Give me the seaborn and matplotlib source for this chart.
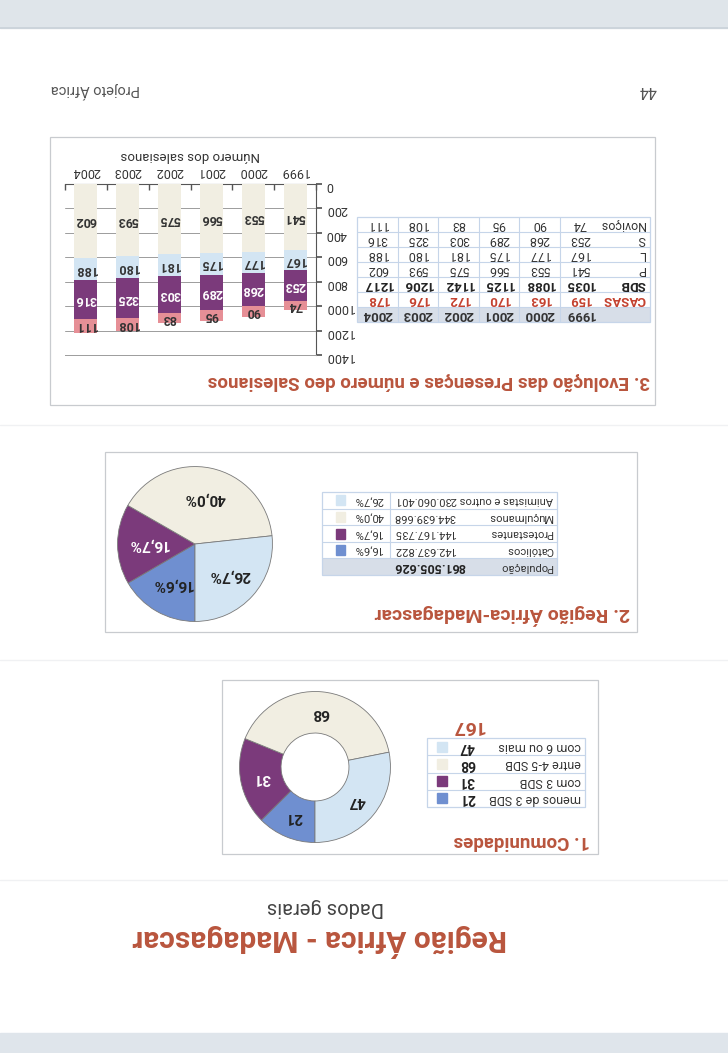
"""
Pagina 'Regiao Africa - Madagascar' (digitalizada de pernas para o ar)
"""
import matplotlib
matplotlib.use('Agg')
import matplotlib.pyplot as plt
from matplotlib.patches import Rectangle
import numpy as np
import pandas as pd
import seaborn as sns

sns.set_theme(style='white')
plt.rcParams['font.family'] = ['Roboto', 'DejaVu Sans']

# ============================================================================
# DADOS
# ============================================================================
years = ['1999', '2000', '2001', '2002', '2003', '2004']
casas = [159, 163, 170, 172, 176, 178]
sdb = [1035, 1088, 1125, 1142, 1206, 1217]
padres = [541, 553, 566, 575, 593, 602]
leigos = [167, 177, 175, 181, 180, 188]
estudantes = [253, 268, 289, 303, 325, 316]
novicos = [74, 90, 95, 83, 108, 111]

rel_names = ['Católicos', 'Protestantes', 'Muçulmanos', 'Animistas e outros']
rel_pop = ['142.637.822', '144.167.735', '344.639.668', '230.060.401']
rel_pct = [16.6, 16.7, 40.0, 26.7]
pop_total = '861.505.626'

com_names = ['menos de 3 SDB', 'com 3 SDB', 'entre 4-5 SDB', 'com 6 ou mais']
com_vals = [21, 31, 68, 47]
com_total = 167

# cores
RED = '#b9553d'
RED2 = '#c4412f'
PURPLE = '#7b3a7b'
BLUE = '#6f8fd0'
LBLUE = '#d3e5f3'
CREAM = '#f1eee2'
PINK = '#e68f96'
LINE = '#c6d5e9'
HEAD = '#d7dee8'

W, H = 728, 1053
fig = plt.figure(figsize=(W / 100, H / 100), dpi=100)

# pagina em coordenadas de pixel (y para baixo)
pg = fig.add_axes([0, 0, 1, 1])
pg.set_xlim(0, W)
pg.set_ylim(H, 0)
pg.axis('off')


def rect_px(x0, y0, x1, y1):
    return [x0 / W, 1 - y1 / H, (x1 - x0) / W, (y1 - y0) / H]


def txt(x, y, s, **kw):
    kw.setdefault('ha', 'center')
    kw.setdefault('va', 'center')
    kw.setdefault('color', '#333333')
    pg.text(x, y, s, rotation=180, **kw)


def box(x0, y0, x1, y1, ec='#c8cbcf', lw=0.9, fc='none', z=1):
    pg.add_patch(Rectangle((x0, y0), x1 - x0, y1 - y0, fill=fc != 'none',
                           fc=fc, ec=ec, lw=lw, zorder=z))


# fundo do scanner
pg.add_patch(Rectangle((0, 0), W, 28, color='#dfe5ea', zorder=0))
pg.add_patch(Rectangle((0, 1033), W, 20, color='#dfe5eb', zorder=0))
pg.plot([0, W], [28, 28], color='#c9d1d8', lw=1.2, zorder=0)
for yy in (425, 660, 880):
    pg.plot([0, W], [yy, yy], color='#f0f1f3', lw=1, zorder=0)

# rodape (de pernas para o ar)
txt(648, 90, '44', fontsize=11.5, color='#555555')
txt(95, 90, 'Projeto África', fontsize=10.5, color='#555555')

# titulo da pagina
txt(320, 940, 'Região África - Madagascar', fontsize=21.5, fontweight='bold', color=RED)
txt(325, 908, 'Dados gerais', fontsize=14.5, color='#444444')

# ============================================================================
# 3. EVOLUCAO DAS PRESENCAS
# ============================================================================
box(50, 137, 655, 405)
txt(650, 381, '3. Evolução das Presenças e número deo Salesianos',
    ha='right', fontsize=13.5, fontweight='bold', color=RED)

ax = fig.add_axes(rect_px(65, 184, 316, 355))
ax.patch.set_alpha(0)
df = pd.DataFrame({'ano': years, 'P': padres, 'L': leigos,
                   'S': estudantes, 'Noviços': novicos})
cum = df[['P', 'L', 'S', 'Noviços']].cumsum(axis=1)
cum['ano'] = years
for col, c in [('Noviços', PINK), ('S', PURPLE), ('L', LBLUE), ('P', CREAM)]:
    sns.barplot(data=cum, x='ano', y=col, color=c, width=0.55, saturation=1,
                errorbar=None, ax=ax, edgecolor='none', zorder=3)

for i in range(len(years)):
    bottom = 0
    for vals, tc in [(padres, '#333333'), (leigos, '#333333'),
                     (estudantes, 'white'), (novicos, '#333333')]:
        v = vals[i]
        ax.text(i, bottom + v / 2, str(v), rotation=180, ha='center', va='center',
                fontsize=9, fontweight='bold', color=tc, zorder=4)
        bottom += v

ax.set_ylim(1400, 0)
ax.set_xlim(5.5, -0.5)
ax.set_yticks(range(0, 1401, 200))
ax.yaxis.tick_right()
ax.tick_params(axis='y', labelrotation=180, labelsize=9, length=4,
               direction='out', color='#555555', labelcolor='#333333', pad=3, right=True)
ax.xaxis.tick_top()
ax.set_xticks(range(len(years)))
ax.set_xticklabels(years)
ax.set_xticks(np.arange(-0.5, 6, 1), minor=True)
ax.tick_params(axis='x', which='major', labelrotation=180, labelsize=9, length=0,
               labelcolor='#333333', pad=4)
ax.tick_params(axis='x', which='minor', length=4, direction='in', color='#555555', top=True)
ax.xaxis.set_label_position('top')
ax.set_xlabel('Número dos salesianos', rotation=180, fontsize=9.5, color='#333333', labelpad=5)
ax.set_ylabel('')
ax.grid(axis='y', color='#9c9c9c', lw=0.7)
ax.set_axisbelow(True)
ax.spines['left'].set_visible(False)
ax.spines['bottom'].set_color('#9c9c9c')
ax.spines['bottom'].set_linewidth(0.7)
for s in ('top', 'right'):
    ax.spines[s].set_color('#555555')
    ax.spines[s].set_linewidth(0.8)

# tabela 3
T3L, T3R, T3B, rh = 357, 650, 322, 15
cw = 40.5
xlab = 600
rows3 = [('', years, 'head'), ('CASAS', casas, 'casas'), ('SDB', sdb, 'sdb'),
         ('P', padres, ''), ('L', leigos, ''), ('S', estudantes, ''),
         ('Noviços', novicos, '')]
T3T = T3B - rh * len(rows3)
box(T3L, T3B - rh, T3R, T3B, ec='none', fc=HEAD, z=1)
for k in range(1, len(rows3)):
    pg.plot([T3L, T3R], [T3B - k * rh] * 2, color=LINE, lw=0.8, zorder=2)
for j in range(1, 6):
    pg.plot([xlab - j * cw] * 2, [T3T, T3B], color=LINE, lw=0.8, zorder=2)
box(T3L, T3T, T3R, T3B, ec=LINE, lw=0.9, z=2)
for k, (lab, vals, kind) in enumerate(rows3):
    yc = T3B - (k + 0.5) * rh
    style = dict(fontsize=9, color='#333333')
    if kind == 'head':
        style = dict(fontsize=9.5, fontweight='bold', color='#333333')
    elif kind == 'casas':
        style = dict(fontsize=9.5, fontweight='bold', color=RED2)
    elif kind == 'sdb':
        style = dict(fontsize=9.5, fontweight='bold', color='#222222')
    if lab:
        txt(T3R - 5, yc, lab, ha='right', **style)
    for i, v in enumerate(vals):
        txt(xlab - (i + 0.5) * cw, yc, str(v), **style)

# ============================================================================
# 2. REGIAO AFRICA-MADAGASCAR
# ============================================================================
box(105, 452, 637, 632)
txt(630, 614, '2. Região África-Madagascar', ha='right', fontsize=14,
    fontweight='bold', color=RED)

rel_colors = [BLUE, PURPLE, CREAM, LBLUE]
cx, cy, r = 195, 544, 79
pax = fig.add_axes(rect_px(cx - r, cy - r, cx + r, cy + r))
wedges, _ = pax.pie(rel_pct, colors=rel_colors, startangle=270, counterclock=False,
                    radius=1, wedgeprops=dict(edgecolor='#7a7a7a', linewidth=0.6))
pax.set_xlim(-1.02, 1.02)
pax.set_ylim(-1.02, 1.02)
pax.axis('off')
for w, p, c in zip(wedges, rel_pct, ['#222222', 'white', '#222222', '#222222']):
    th = np.deg2rad((w.theta1 + w.theta2) / 2)
    pax.text(0.6 * np.cos(th), 0.6 * np.sin(th), f'{p:.1f}%'.replace('.', ','),
             rotation=180, ha='center', va='center', fontsize=11,
             fontweight='bold', color=c)

# tabela 2
T2L, T2R, T2T, T2B = 322, 557, 492, 575
rh2 = (T2B - T2T) / 5
box(T2L, T2B - rh2, T2R, T2B, ec='none', fc=HEAD, z=1)
for k in range(1, 5):
    pg.plot([T2L, T2R], [T2B - k * rh2] * 2, color=LINE, lw=0.8, zorder=2)
pg.plot([390, 390], [T2T, T2B - rh2], color=LINE, lw=0.8, zorder=2)
box(T2L, T2T, T2R, T2B, ec=LINE, lw=0.9, z=2)
yc = T2B - rh2 / 2
txt(T2R - 4, yc, 'População', ha='right', fontsize=8)
txt(394, yc, pop_total, ha='left', fontsize=9, fontweight='bold', color='#222222')
for k in range(4):
    yc = T2B - (k + 1.5) * rh2
    txt(T2R - 4, yc, rel_names[k], ha='right', fontsize=8)
    txt(394, yc, rel_pop[k], ha='left', fontsize=8)
    txt(354, yc, f'{rel_pct[k]:.1f}%'.replace('.', ','), ha='left', fontsize=8)
    pg.add_patch(Rectangle((336, yc - 5), 9, 10, color=rel_colors[k], zorder=3))

# ============================================================================
# 1. COMUNIDADES
# ============================================================================
box(222, 680, 598, 854)
txt(590, 841, '1. Comunidades', ha='right', fontsize=13.5, fontweight='bold', color=RED)

cx, cy, r = 315, 767, 77
dax = fig.add_axes(rect_px(cx - r, cy - r, cx + r, cy + r))
wedges, _ = dax.pie(com_vals, colors=rel_colors, startangle=270, counterclock=False,
                    radius=1, wedgeprops=dict(width=0.55, edgecolor='#7a7a7a', linewidth=0.6))
dax.set_xlim(-1.02, 1.02)
dax.set_ylim(-1.02, 1.02)
dax.axis('off')
for w, v, c in zip(wedges, com_vals, ['#222222', 'white', '#222222', '#222222']):
    th = np.deg2rad((w.theta1 + w.theta2) / 2)
    dax.text(0.72 * np.cos(th), 0.72 * np.sin(th), str(v), rotation=180,
             ha='center', va='center', fontsize=11, fontweight='bold', color=c)

# tabela 1
T1L, T1R, T1T, T1B = 427, 585, 738, 807
rh1 = (T1B - T1T) / 4
for k in range(1, 4):
    pg.plot([T1L, T1R], [T1B - k * rh1] * 2, color=LINE, lw=0.8, zorder=2)
box(T1L, T1T, T1R, T1B, ec=LINE, lw=0.9, z=2)
for k in range(4):
    yc = T1B - (k + 0.5) * rh1
    txt(T1R - 4, yc, com_names[k], ha='right', fontsize=9)
    txt(467, yc, str(com_vals[k]), fontsize=10, fontweight='bold', color='#222222')
    pg.add_patch(Rectangle((437, yc - 5), 10, 10, color=rel_colors[k], zorder=3))
txt(468, 726, str(com_total), fontsize=14, fontweight='bold', color=RED)

fig.savefig('out.png', dpi=100)
